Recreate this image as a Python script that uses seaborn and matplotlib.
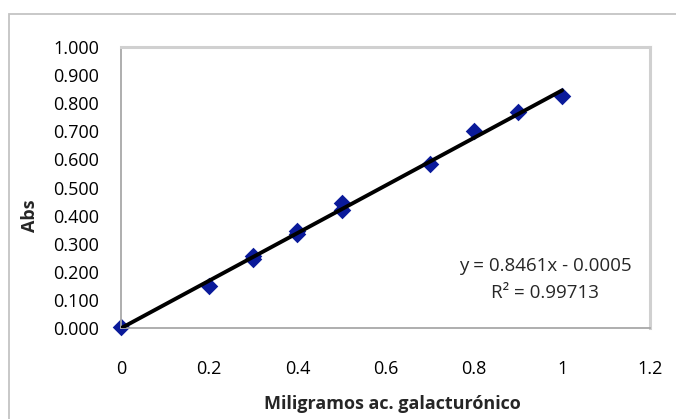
import numpy as np
import pandas as pd
import matplotlib
matplotlib.use("Agg")
import matplotlib.pyplot as plt
import seaborn as sns
from matplotlib.patches import Rectangle

# Data
mg = [0.0, 0.2, 0.3, 0.3, 0.4, 0.4, 0.5, 0.5, 0.7, 0.8, 0.9, 1.0]
absorbance = [0.005, 0.148, 0.245, 0.255, 0.335, 0.345, 0.420, 0.445, 0.585, 0.700, 0.770, 0.825]
slope = 0.8461
intercept = -0.0005
r2 = 0.99713
x_ticks = [0, 0.2, 0.4, 0.6, 0.8, 1.0, 1.2]
x_tick_labels = ["0", "0.2", "0.4", "0.6", "0.8", "1", "1.2"]
y_ticks = [0.0, 0.1, 0.2, 0.3, 0.4, 0.5, 0.6, 0.7, 0.8, 0.9, 1.0]

df = pd.DataFrame({"mg": mg, "abs": absorbance})
fit_x = np.array([0.0, 1.0])
fit = pd.DataFrame({"mg": fit_x, "abs": slope * fit_x + intercept})

sns.set_style("white")
plt.rcParams["font.family"] = ["Open Sans", "DejaVu Sans"]
fs = 13

fig = plt.figure(figsize=(6.76, 4.19), dpi=100)
ax = fig.add_axes([0.179, 0.217, 0.783, 0.671])

# outer chart border
fig.patches.append(Rectangle((8.5 / 676, -0.01), 1.0, 1 - 14 / 419 + 0.01,
                             transform=fig.transFigure, fill=False,
                             edgecolor="#c4c4c4", lw=1.3))

sns.scatterplot(data=df, x="mg", y="abs", marker="D", s=80, color="#0a1a9a",
                edgecolor="#0a1a9a", linewidth=0, ax=ax, zorder=2, clip_on=False)
sns.lineplot(data=fit, x="mg", y="abs", color="black", lw=2.8, ax=ax, zorder=3)

ax.set_xlim(0, 1.2)
ax.set_ylim(0, 1.0)
ax.set_xticks(x_ticks)
ax.set_xticklabels(x_tick_labels)
ax.set_yticks(y_ticks)
ax.set_yticklabels([f"{v:.3f}" for v in y_ticks])
ax.tick_params(axis="both", labelsize=fs, colors="#000000", length=5,
               width=1, direction="out")
ax.tick_params(axis="x", pad=18, color="#a0a0a0")
ax.tick_params(axis="y", pad=11, color="#a0a0a0")

for side in ["top", "right"]:
    ax.spines[side].set_color("#d0d0d0")
    ax.spines[side].set_linewidth(2.2)
for side in ["left", "bottom"]:
    ax.spines[side].set_color("#a8a8a8")
    ax.spines[side].set_linewidth(1.3)

ax.set_xlabel("Miligramos ac. galacturónico", fontsize=fs, fontweight="bold")
ax.set_ylabel("Abs", fontsize=fs, fontweight="bold")
ax.xaxis.set_label_coords(0.512, -0.238)
ax.yaxis.set_label_coords(-0.155, 0.40)

ax.text(0.962, 0.220, f"y = {slope:.4f}x - {abs(intercept):.4f}", ha="center",
        va="center", fontsize=13.5)
ax.text(0.962, 0.123, f"R² = {r2:.5f}", ha="center", va="center", fontsize=13.5)

fig.savefig("out.png", dpi=100)
